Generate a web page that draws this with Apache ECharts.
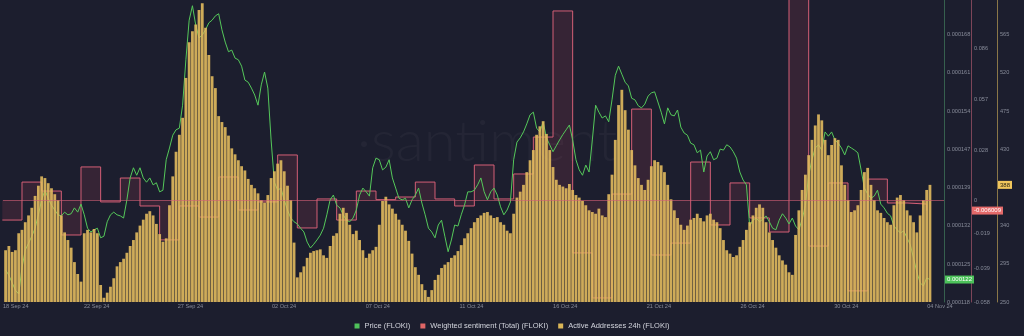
<!DOCTYPE html>
<html>
<head>
<meta charset="utf-8">
<title>FLOKI: price, weighted sentiment and active addresses</title>
<script src="https://cdn.jsdelivr.net/npm/echarts@6/dist/echarts.min.js"></script>
<style>
  html, body { margin: 0; padding: 0; background: #1c1e2e; }
  #chart { width: 1024px; height: 336px; }
</style>
</head>
<body>
<div id="chart"></div>
<script>
const HOUR = 3600e3;
const DAY = 24 * HOUR;

// Active Addresses 24h (FLOKI), one value per 4-hour bucket starting 18 Sep 2024 04:00 UTC
const activeAddresses = [
  311,316,309,311,331,335,344,352,361,375,
  387,398,396,390,384,377,370,352,332,323,
  314,297,283,274,331,335,332,336,331,270,
  255,261,268,278,292,297,301,308,316,323,
  332,340,347,354,357,352,342,330,321,325,
  364,398,427,447,467,514,556,569,577,594,
  602,573,541,516,502,469,462,456,446,431,
  424,417,410,405,395,388,384,378,370,367,
  376,396,404,413,417,404,387,370,320,279,
  285,292,302,308,310,311,312,305,302,316,328,
  331,354,361,355,341,330,334,323,311,302,
  307,311,315,341,369,374,365,360,354,347,
  341,334,322,307,291,282,271,264,256,264,
  276,282,290,294,297,302,305,310,317,325,
  331,337,344,349,352,355,356,352,349,350,
  344,341,334,331,354,373,380,388,403,417,
  429,447,457,463,448,429,409,394,388,386,384,
  389,382,376,373,369,364,358,356,354,360,
  352,350,377,400,441,482,500,476,453,429,
  411,396,388,382,394,410,417,415,411,403,
  388,371,358,349,341,335,340,347,349,354,
  349,345,352,354,347,344,337,323,311,307,
  303,305,315,323,335,344,352,361,365,361,
  344,332,323,314,305,299,294,285,282,329,
  358,382,400,423,441,458,471,464,441,423,435,
  443,441,411,388,370,356,358,364,382,403,
  408,388,370,358,355,349,344,341,364,373,
  376,370,358,352,344,332,352,370,382,388
];

// Price (FLOKI) in USD, same 4-hour buckets
const price = [
  0.0001240,0.0001230,0.0001216,0.0001202,0.0001195,0.0001244,0.0001277,0.0001290,0.0001303,0.0001318,
  0.0001343,0.0001371,0.0001389,0.0001374,0.0001361,0.0001352,0.0001343,0.0001341,0.0001348,0.0001343,
  0.0001345,0.0001356,0.0001348,0.0001363,0.0001343,0.0001318,0.0001311,0.0001315,0.0001318,0.0001300,
  0.0001303,0.0001330,0.0001343,0.0001348,0.0001343,0.0001341,0.0001337,0.0001371,0.0001412,0.0001431,
  0.0001417,0.0001431,0.0001412,0.0001404,0.0001412,0.0001399,0.0001403,0.0001386,0.0001389,0.0001446,
  0.0001468,0.0001492,0.0001502,0.0001505,0.0001548,0.0001633,0.0001707,0.0001734,0.0001698,0.0001674,
  0.0001679,0.0001689,0.0001702,0.0001707,0.0001715,0.0001719,0.0001689,0.0001666,0.0001648,0.0001651,
  0.0001636,0.0001633,0.0001621,0.0001595,0.0001591,0.0001580,0.0001567,0.0001548,0.0001586,0.0001610,
  0.0001580,0.0001483,0.0001404,0.0001389,0.0001393,0.0001371,0.0001352,0.0001337,0.0001330,0.0001326,
  0.0001318,0.0001311,0.0001292,0.0001281,0.0001288,0.0001296,0.0001305,0.0001318,0.0001343,0.0001371,0.0001380,
  0.0001361,0.0001356,0.0001343,0.0001333,0.0001330,0.0001337,0.0001352,0.0001380,0.0001393,0.0001386,
  0.0001378,0.0001431,0.0001449,0.0001446,0.0001427,0.0001432,0.0001446,0.0001412,0.0001393,0.0001374,
  0.0001371,0.0001374,0.0001356,0.0001371,0.0001380,0.0001393,0.0001365,0.0001343,0.0001318,0.0001311,
  0.0001300,0.0001324,0.0001333,0.0001303,0.0001274,0.0001296,0.0001324,0.0001322,0.0001343,0.0001361,
  0.0001386,0.0001386,0.0001389,0.0001399,0.0001412,0.0001386,0.0001371,0.0001386,0.0001393,0.0001380,
  0.0001358,0.0001343,0.0001352,0.0001367,0.0001446,0.0001479,0.0001487,0.0001498,0.0001513,0.0001530,
  0.0001535,0.0001505,0.0001498,0.0001517,0.0001487,0.0001474,0.0001461,0.0001472,0.0001483,0.0001493,0.0001502,
  0.0001511,0.0001483,0.0001446,0.0001427,0.0001417,0.0001436,0.0001423,0.0001483,0.0001548,0.0001535,
  0.0001524,0.0001528,0.0001517,0.0001558,0.0001604,0.0001621,0.0001606,0.0001591,0.0001584,0.0001561,
  0.0001558,0.0001547,0.0001543,0.0001550,0.0001565,0.0001571,0.0001573,0.0001554,0.0001535,0.0001513,
  0.0001543,0.0001530,0.0001528,0.0001539,0.0001507,0.0001496,0.0001492,0.0001477,0.0001474,0.0001459,
  0.0001464,0.0001423,0.0001453,0.0001461,0.0001446,0.0001449,0.0001466,0.0001464,0.0001474,0.0001470,
  0.0001461,0.0001449,0.0001423,0.0001408,0.0001399,0.0001322,0.0001333,0.0001337,0.0001330,0.0001335,
  0.0001341,0.0001330,0.0001318,0.0001315,0.0001333,0.0001345,0.0001337,0.0001326,0.0001337,0.0001322,
  0.0001315,0.0001334,0.0001361,0.0001417,0.0001446,0.0001468,0.0001474,0.0001464,0.0001498,0.0001490,0.0001498,
  0.0001483,0.0001477,0.0001468,0.0001455,0.0001472,0.0001468,0.0001464,0.0001459,0.0001427,0.0001393,
  0.0001382,0.0001374,0.0001378,0.0001389,0.0001363,0.0001356,0.0001346,0.0001341,0.0001322,0.0001315,
  0.0001309,0.0001313,0.0001300,0.0001287,0.0001262,0.0001236,0.0001216,0.0001210,0.0001225,0.0001222
];

// Weighted sentiment (Total) (FLOKI), one value per day from 18 Sep 2024
const sentiment = [
  -0.0114, 0.0102, 0.0051,-0.0199, 0.0188,-0.0011, 0.0125,-0.0034,-0.0227,-0.0034,
  -0.0097, 0.0131,-0.0057,-0.0011, 0.0256,-0.0159, 0.0006,-0.0114, 0.0051, 0.0002,
   0.0017, 0.0102, 0.0006,-0.0034, 0.0199, 0.0006, 0.0148, 0.0358, 0.1075,-0.0301,
  -0.0557, 0.0034, 0.0517,-0.0313,-0.0245, 0.0216,-0.0142, 0.0097,-0.0102,-0.0182,
   0.1310,-0.0262, 0.0097,-0.0517, 0.0119,-0.0017,-0.0023,-0.006009
];

// Axis ticks
const priceTicks = [0.000118, 0.0001251, 0.0001323, 0.0001394, 0.0001466, 0.0001537, 0.0001609, 0.000168];
const sentimentTicks = [0.086, 0.057, 0.028, 0, -0.019, -0.039, -0.058];
const addressTicks = [250, 295, 340, 430, 475, 520, 565];
const MONTHS = ['Jan','Feb','Mar','Apr','May','Jun','Jul','Aug','Sep','Oct','Nov','Dec'];

const BUCKET_START = Date.UTC(2024, 8, 18, 4);
const BUCKET = 4 * HOUR;
const SENT_START = Date.UTC(2024, 8, 18);
const X_MIN = Date.UTC(2024, 8, 18, 0, 50);
const X_MAX = Date.UTC(2024, 10, 4, 21, 8);
const DATE_TICK_STEP = 4.764 * DAY;
const dateTicks = [];
for (let k = 0; k <= 10; k++) dateTicks.push(X_MIN + k * DATE_TICK_STEP);

const C_PRICE = '#55c85a';
const C_SENT = '#d45f76';
const C_ADDR = '#e2ba5e';
const AXIS_TEXT = '#878b99';
const FONT = 'Liberation Sans';

const bucketTime = i => BUCKET_START + i * BUCKET;
const addrData = activeAddresses.map((v, i) => [bucketTime(i), v]);
const priceData = price.map((v, i) => [bucketTime(i), v]);
const sentData = sentiment.map((v, k) => [SENT_START + k * DAY, v]);

const pad2 = n => (n < 10 ? '0' : '') + n;
function dateLabel(v) {
  const d = new Date(v);
  return pad2(d.getUTCDate()) + ' ' + MONTHS[d.getUTCMonth()] + ' ' + String(d.getUTCFullYear()).slice(2);
}

// static value badge shown on an axis
function badge(value, text, bg, fg) {
  return {
    show: true,
    status: 'show',
    value: value,
    type: 'line',
    snap: false,
    triggerTooltip: false,
    lineStyle: { opacity: 0 },
    label: {
      show: true,
      formatter: () => text,
      backgroundColor: bg,
      color: fg,
      fontSize: 6,
      fontFamily: FONT,
      padding: [1, 2, 1, 2],
      margin: 1,
      borderRadius: 0
    }
  };
}

const lastPrice = price[price.length - 1];
const lastSent = sentiment[sentiment.length - 1];
const lastAddr = activeAddresses[activeAddresses.length - 1];

const chart = echarts.init(document.getElementById('chart'), null, { renderer: 'canvas' });
chart.setOption({
  animation: false,
  backgroundColor: '#1c1e2e',
  textStyle: { fontFamily: FONT },
  grid: { left: 0, right: 80, top: 0, bottom: 34, containLabel: false },
  graphic: [{
    type: 'text',
    x: 357,
    y: 142,
    silent: true,
    z: 0,
    style: {
      text: '·santiment',
      fontSize: 58,
      fontFamily: 'Lato',
      fontWeight: 300,
      fill: 'rgba(255,255,255,0.035)',
      align: 'left',
      verticalAlign: 'middle'
    }
  }],
  legend: {
    left: 'center',
    top: 322,
    padding: 0,
    icon: 'rect',
    itemWidth: 5,
    itemHeight: 5,
    itemGap: 10,
    textStyle: { color: '#d3d5dd', fontSize: 7.5, fontFamily: FONT },
    data: [
      { name: 'Price (FLOKI)', itemStyle: { color: '#4fc25a' } },
      { name: 'Weighted sentiment (Total) (FLOKI)', itemStyle: { color: '#e06666' } },
      { name: 'Active Addresses 24h (FLOKI)', itemStyle: { color: '#f0c65c' } }
    ]
  },
  xAxis: {
    type: 'value',
    min: X_MIN,
    max: X_MAX,
    axisLine: { show: false },
    axisTick: { show: false },
    splitLine: { show: false },
    axisLabel: {
      customValues: dateTicks,
      formatter: dateLabel,
      color: AXIS_TEXT,
      fontSize: 5.6,
      margin: 1,
      alignMinLabel: 'left'
    }
  },
  yAxis: [
    {
      type: 'value',
      position: 'right',
      offset: 0,
      min: 0.000118,
      max: 0.00017447,
      axisLine: { show: true, lineStyle: { color: '#36604e', width: 1 } },
      axisTick: { show: false },
      splitLine: { show: false },
      axisLabel: {
        customValues: priceTicks,
        formatter: v => v.toFixed(6),
        color: AXIS_TEXT,
        fontSize: 5.6,
        margin: 3
      },
      axisPointer: badge(lastPrice, lastPrice.toFixed(6), '#4cc25a', '#ffffff')
    },
    {
      type: 'value',
      position: 'right',
      offset: 27,
      min: -0.058,
      max: 0.11373,
      axisLine: { show: true, lineStyle: { color: '#7d4558', width: 1 } },
      axisTick: { show: false },
      splitLine: { show: false },
      axisLabel: {
        customValues: sentimentTicks,
        formatter: v => (v === 0 ? '0' : v.toFixed(3)),
        color: AXIS_TEXT,
        fontSize: 5.6,
        margin: 3
      },
      axisPointer: badge(lastSent, lastSent.toFixed(6), '#e46a6a', '#ffffff')
    },
    {
      type: 'value',
      position: 'right',
      offset: 53,
      min: 250,
      max: 605.8,
      axisLine: { show: true, lineStyle: { color: '#8a7748', width: 1 } },
      axisTick: { show: false },
      splitLine: { show: false },
      axisLabel: {
        customValues: addressTicks,
        formatter: v => String(v),
        color: AXIS_TEXT,
        fontSize: 5.6,
        margin: 3
      },
      axisPointer: badge(lastAddr, String(lastAddr), '#f0c65c', '#2b2516')
    }
  ],
  series: [
    {
      name: 'Weighted sentiment (Total) (FLOKI)',
      type: 'line',
      step: 'end',
      yAxisIndex: 1,
      data: sentData,
      color: '#e06666',
      showSymbol: false,
      symbol: 'none',
      z: 1,
      lineStyle: { color: C_SENT, width: 1 },
      areaStyle: { color: 'rgba(200, 70, 100, 0.22)', origin: 'auto' },
      markLine: {
        silent: true,
        symbol: 'none',
        label: { show: false },
        lineStyle: { color: 'rgba(212,95,118,0.6)', width: 1, type: 'solid' },
        data: [{ yAxis: 0 }]
      }
    },
    {
      name: 'Price (FLOKI)',
      type: 'line',
      yAxisIndex: 0,
      data: priceData,
      color: '#4fc25a',
      showSymbol: false,
      symbol: 'none',
      z: 2,
      lineStyle: { color: C_PRICE, width: 1 }
    },
    {
      name: 'Active Addresses 24h (FLOKI)',
      type: 'bar',
      yAxisIndex: 2,
      data: addrData,
      color: '#f0c65c',
      barWidth: 2.8,
      z: 3,
      itemStyle: { color: C_ADDR, opacity: 0.9 }
    }
  ]
});
</script>
</body>
</html>
